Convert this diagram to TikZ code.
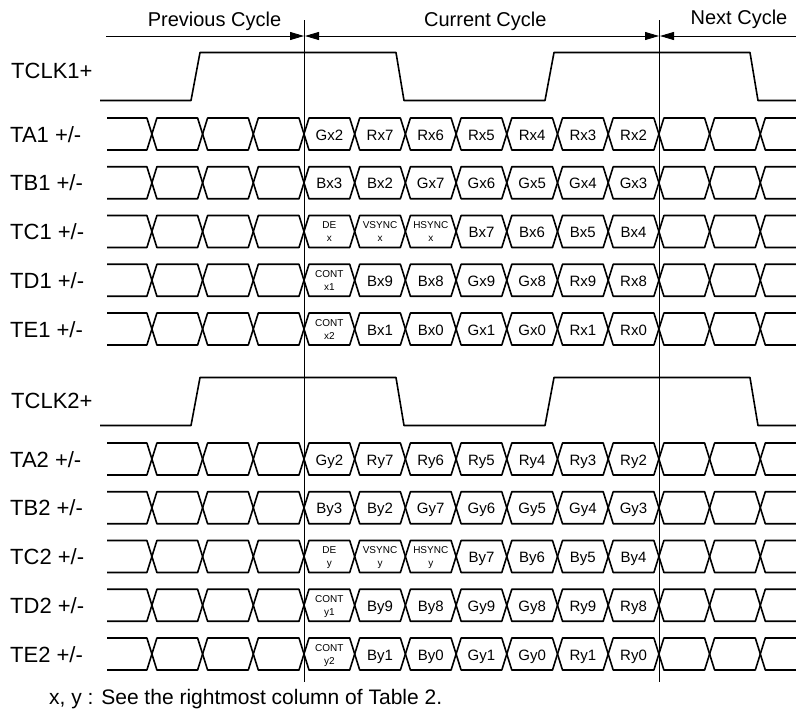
\documentclass[tikz,border=0pt]{standalone}
\usepackage{fontspec}
\setmainfont{Liberation Sans}
\usetikzlibrary{arrows.meta}
\tikzset{
  sig/.style={line width=1.6pt, line join=round},
  thinln/.style={line width=0.9pt},
  >={Triangle[length=14pt,width=8pt]},
  lbl/.style={font=\fontsize{22}{26}\selectfont, anchor=base west, inner sep=0pt},
  ttl/.style={font=\fontsize{20}{24}\selectfont, anchor=base, inner sep=0pt},
  cell/.style={font=\fontsize{15}{18}\selectfont, anchor=base, inner sep=0pt},
}
\newcommand\twol[2]{{\fontsize{10}{12}\selectfont\makebox[0pt]{\raisebox{9pt}{#1}}\makebox[0pt]{\raisebox{-4pt}{#2}}}}
\newcommand\datarow[9]{%
  \foreach \k in {-3,...,8}{%
    \pgfmathsetmacro\ca{304+50.7*\k}%
    \pgfmathsetmacro\cb{304+50.7*(\k+1)}%
    \draw[sig] (\ca,#2) -- (\ca+5,#2-16) -- (\cb-5,#2-16) -- (\cb,#2) -- (\cb-5,#2+16) -- (\ca+5,#2+16) -- cycle;
  }%
  \draw[sig] (107,#2-16) -- (146.9,#2-16) -- (151.9,#2) -- (146.9,#2+16) -- (107,#2+16);
  \draw[sig] (800,#2-16) -- (765.3,#2-16) -- (760.3,#2) -- (765.3,#2+16) -- (800,#2+16);
  \node[cell] (#1-0) at (329.35,#2+6) {#3};
  \node[cell] (#1-1) at (380.05,#2+6) {#4};
  \node[cell] (#1-2) at (430.75,#2+6) {#5};
  \node[cell] (#1-3) at (481.45,#2+6) {#6};
  \node[cell] (#1-4) at (532.15,#2+6) {#7};
  \node[cell] (#1-5) at (582.85,#2+6) {#8};
  \node[cell] (#1-6) at (633.55,#2+6) {#9};
}
\newcommand\clockrow[2]{% #1 high y, #2 low y
  \draw[sig] (100,#2) -- (191,#2) -- (200,#1) -- (396,#1) -- (404,#2) -- (545,#2) -- (554,#1) -- (750,#1) -- (758,#2) -- (800,#2);
}
\begin{document}
\begin{tikzpicture}[x=1pt,y=-1pt]
\useasboundingbox (0,0) rectangle (796,710);
% cycle boundaries
\coordinate (s0) at (106,36);
\coordinate (b1) at (304,36);
\coordinate (b1r) at (305,36);
\coordinate (b2) at (659,36);
\coordinate (b2r) at (660,36);
\coordinate (s3) at (796,36);
\coordinate (b1top) at (304,20);
\coordinate (b1bot) at (304,682);
\coordinate (b2top) at (659,20);
\coordinate (b2bot) at (659,682);
\draw[thinln] (b1top) -- (b1bot);
\draw[thinln] (b2top) -- (b2bot);
\draw[thinln,->] (s0) -- (b1);
\draw[thinln,<->] (b1r) -- (b2);
\draw[thinln,<-] (b2r) -- (s3);
\node[ttl] (prev) at (214.5,26.7) {Previous Cycle};
\node[ttl] (cur) at (485.3,26.7) {Current Cycle};
\node[ttl] (next) at (739,24.5) {Next Cycle};
% clocks
\clockrow{52.5}{100.5}
\clockrow{377.5}{425.5}
\node[lbl] (clk1) at (11,78) {TCLK1+};
\node[lbl] (clk2) at (11,408) {TCLK2+};
% labels
\node[lbl] (la1) at (10,142) {TA1 +/-};
\node[lbl] (lb1) at (10,190.75) {TB1 +/-};
\node[lbl] (lc1) at (10,239.5) {TC1 +/-};
\node[lbl] (ld1) at (10,288.25) {TD1 +/-};
\node[lbl] (le1) at (10,337) {TE1 +/-};
\node[lbl] (la2) at (10,467) {TA2 +/-};
\node[lbl] (lb2) at (10,515.75) {TB2 +/-};
\node[lbl] (lc2) at (10,564.5) {TC2 +/-};
\node[lbl] (ld2) at (10,613.25) {TD2 +/-};
\node[lbl] (le2) at (10,662) {TE2 +/-};
% data rows
\datarow{a1}{134}{Gx2}{Rx7}{Rx6}{Rx5}{Rx4}{Rx3}{Rx2}
\datarow{b1row}{182.75}{Bx3}{Bx2}{Gx7}{Gx6}{Gx5}{Gx4}{Gx3}
\datarow{c1}{231.5}{\twol{DE}{x}}{\twol{VSYNC}{x}}{\twol{HSYNC}{x}}{Bx7}{Bx6}{Bx5}{Bx4}
\datarow{d1}{280.25}{\twol{CONT}{x1}}{Bx9}{Bx8}{Gx9}{Gx8}{Rx9}{Rx8}
\datarow{e1}{329}{\twol{CONT}{x2}}{Bx1}{Bx0}{Gx1}{Gx0}{Rx1}{Rx0}
\datarow{a2}{459}{Gy2}{Ry7}{Ry6}{Ry5}{Ry4}{Ry3}{Ry2}
\datarow{b2row}{507.75}{By3}{By2}{Gy7}{Gy6}{Gy5}{Gy4}{Gy3}
\datarow{c2}{556.5}{\twol{DE}{y}}{\twol{VSYNC}{y}}{\twol{HSYNC}{y}}{By7}{By6}{By5}{By4}
\datarow{d2}{605.25}{\twol{CONT}{y1}}{By9}{By8}{Gy9}{Gy8}{Ry9}{Ry8}
\datarow{e2}{654}{\twol{CONT}{y2}}{By1}{By0}{Gy1}{Gy0}{Ry1}{Ry0}
% footnote
\node[font=\fontsize{21}{25}\selectfont, anchor=base west, inner sep=0pt] (note) at (49,704) {x, y : See the rightmost column of Table 2.};
\end{tikzpicture}
\end{document}
